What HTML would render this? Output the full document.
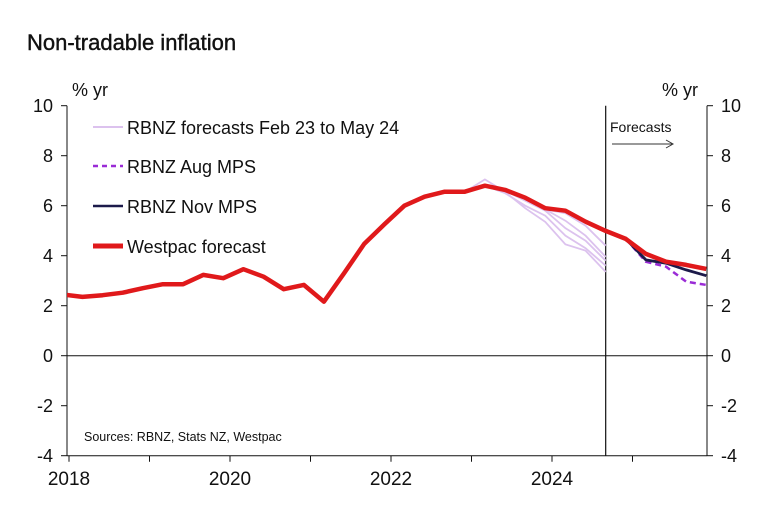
<!DOCTYPE html>
<html><head><meta charset="utf-8"><style>
html,body{margin:0;padding:0;background:#fff;}
svg{display:block;font-family:"Liberation Sans",Arial,sans-serif;}
</style></head><body>
<svg id="chart" width="763" height="511" viewBox="0 0 763 511">
<text x="27" y="50" font-size="22" fill="#111" stroke="#111" stroke-width="0.4">Non-tradable inflation</text>
<text x="72" y="96" font-size="18" fill="#111">% yr</text>
<text x="662" y="96" font-size="18" fill="#111">% yr</text>
<g id="axes"></g>
<g id="series"></g>
<g>
 <line x1="93" y1="127" x2="123" y2="127" stroke="#dcc2ee" stroke-width="2"/>
 <text x="127" y="134" font-size="18" fill="#111">RBNZ forecasts Feb 23 to May 24</text>
 <line x1="93" y1="166" x2="123" y2="166" stroke="#9a2bd6" stroke-width="2.5" stroke-dasharray="5,4"/>
 <text x="127" y="173" font-size="18" fill="#111">RBNZ Aug MPS</text>
 <line x1="93" y1="206" x2="123" y2="206" stroke="#1c1a4a" stroke-width="2.5"/>
 <text x="127" y="213" font-size="18" fill="#111">RBNZ Nov MPS</text>
 <line x1="93" y1="246" x2="123" y2="246" stroke="#e0191b" stroke-width="5"/>
 <text x="127" y="253" font-size="18" fill="#111">Westpac forecast</text>
</g>
<text x="610" y="132" font-size="14" fill="#111">Forecasts</text>
<line x1="612" y1="144" x2="672" y2="144" stroke="#333" stroke-width="1"/>
<path d="M666,140 L673,144 L666,148" fill="none" stroke="#333" stroke-width="1"/>
<text x="84" y="441" font-size="12.5" fill="#111">Sources: RBNZ, Stats NZ, Westpac</text>
</svg>
<script>
const yTicks=[10,8,6,4,2,0,-2,-4];
const xYears=[2018,2020,2022,2024];
const startQ=2017.917; // Dec 2017
const westpac=[2.45,2.35,2.42,2.52,2.7,2.86,2.86,3.23,3.1,3.46,3.16,2.66,2.83,2.16,3.3,4.47,5.25,6.0,6.36,6.56,6.56,6.8,6.63,6.32,5.9,5.8,5.36,4.99,4.67,4.07,3.76,3.63,3.47];
const novStart=2024.667;
const novMps=[4.99,4.67,3.83,3.7,3.43,3.2];
const augStart=2024.917;
const augMps=[4.67,3.76,3.56,2.96,2.83];
const rbnzStart=2022.917;
const rbnzFeb23=[6.55,7.05,6.55,5.9,5.35,4.45,4.2,3.35];
const rbnzMay23=[6.55,6.8,6.5,6.0,5.6,4.8,4.3,3.6];
const rbnzAug23=[6.55,6.8,6.6,6.2,5.8,5.1,4.6,3.8];
const rbnzNov23=[6.55,6.8,6.65,6.3,5.85,5.4,4.8,3.95];
const rbnzFeb24=[6.55,6.8,6.6,6.3,5.85,5.7,5.2,4.4];
const forecastStart=2024.667;

const X0=69,XPY=80.5,PL=67,PR=707;
function xs(t){return X0+(t-2018)*XPY;}
function ys(v){return 355.7-v*25;}
const NS="http://www.w3.org/2000/svg";
function mk(tag,attrs,parent){const e=document.createElementNS(NS,tag);for(const k in attrs)e.setAttribute(k,attrs[k]);parent.appendChild(e);return e;}
const ax=document.getElementById('axes'),sg=document.getElementById('series');
const svg=document.getElementById('chart');
const defs=mk('defs',{},svg);
const cp=mk('clipPath',{id:'plotclip'},defs);
mk('rect',{x:PL,y:90,width:PR-PL,height:370},cp);
sg.setAttribute('clip-path','url(#plotclip)');
const la=mk('line',{x1:PL,y1:ys(10),x2:PL,y2:ys(-4),stroke:'#111','stroke-width':1},ax);


const ra=mk('line',{x1:PR,y1:ys(10),x2:PR,y2:ys(-4),stroke:'#111','stroke-width':1},ax);


const xa=mk('line',{x1:PL,y1:ys(-4),x2:PR,y2:ys(-4),stroke:'#111','stroke-width':1},ax);


const zl=mk('line',{x1:PL,y1:ys(0),x2:PR,y2:ys(0),stroke:'#111','stroke-width':1},ax);


const fl=mk('line',{x1:xs(forecastStart),y1:ys(10),x2:xs(forecastStart),y2:ys(-4),stroke:'#111','stroke-width':1.2},ax);


yTicks.forEach(v=>{
 mk('line',{x1:PL-6,y1:ys(v),x2:PL,y2:ys(v),stroke:'#111'},ax);
 mk('line',{x1:PR,y1:ys(v),x2:PR+6,y2:ys(v),stroke:'#111'},ax);
 const l=mk('text',{x:53,y:ys(v)+6.5,'font-size':18,'text-anchor':'end',fill:'#111'},ax);
 l.textContent=v;
 
 
 const r=mk('text',{x:721,y:ys(v)+6.5,'font-size':18,fill:'#111'},ax);
 r.textContent=v;
 
 
});
for(let yr=2018;yr<=2025;yr++){mk('line',{x1:xs(yr),y1:ys(-4),x2:xs(yr),y2:ys(-4)+6,stroke:'#111'},ax);}
xYears.forEach(yr=>{
 const t=mk('text',{x:xs(yr),y:485,'font-size':19,'text-anchor':'middle',fill:'#111'},ax);
 t.textContent=yr;
 
 
});
function pts(start,arr){return arr.map((v,i)=>xs(start+i*0.25).toFixed(1)+','+ys(v).toFixed(1)).join(' ');}
[rbnzFeb23,rbnzMay23,rbnzAug23,rbnzNov23,rbnzFeb24].forEach(a=>{
 const p=mk('polyline',{points:pts(rbnzStart,a),fill:'none',stroke:'#dcc2ee','stroke-width':1.8},sg);
 
 
});
const ag=mk('polyline',{points:pts(augStart,augMps),fill:'none',stroke:'#9a2bd6','stroke-width':2.5,'stroke-dasharray':'6,4'},sg);


const nv=mk('polyline',{points:pts(novStart,novMps),fill:'none',stroke:'#1c1a4a','stroke-width':2.8},sg);


const wp=mk('polyline',{points:pts(startQ,westpac),fill:'none',stroke:'#e0191b','stroke-width':4.5,'stroke-linejoin':'round'},sg);


</script>
</body></html>
